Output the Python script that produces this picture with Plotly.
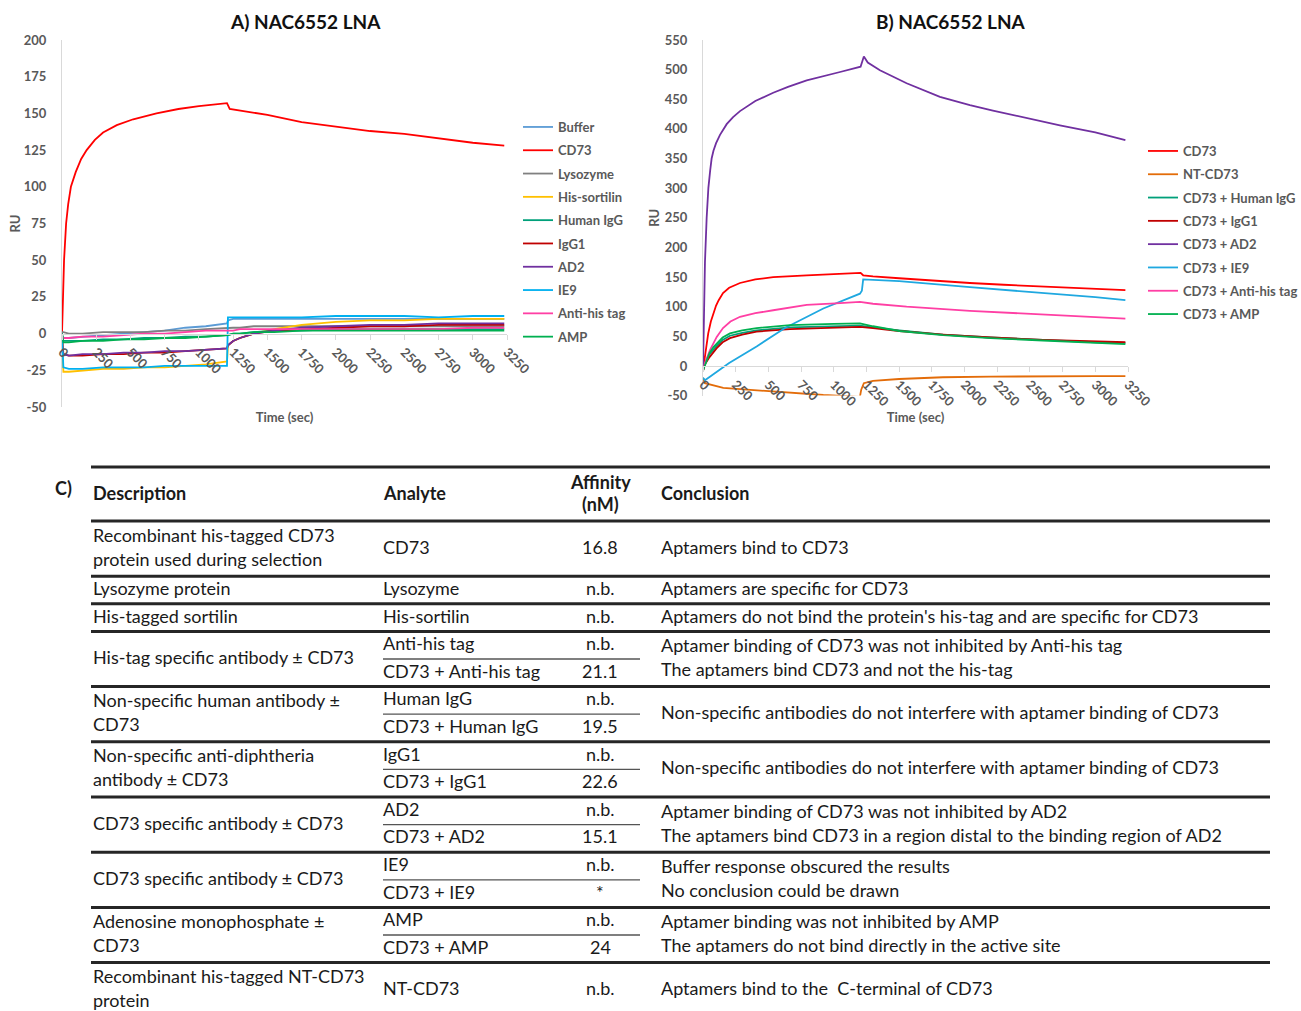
import plotly.graph_objects as go

# ---------------- Panel A: NAC6552 LNA against single analytes ----------------
a_names = ["Buffer", "CD73", "Lysozyme", "His-sortilin", "Human IgG",
           "IgG1", "AD2", "IE9", "Anti-his tag", "AMP"]
a_colors = ["#5B9BD5", "#FF0000", "#808080", "#FFC000", "#00A07A",
            "#C00000", "#7030A0", "#00B0F0", "#FF3FA4", "#00B050"]

# CD73 sensorgram (association 0-1210 s, dissociation afterwards)
a_cd73_t = [0, 5, 15, 30, 45, 65, 100, 140, 180, 240, 300, 400, 520, 690, 850,
            1000, 1205, 1225, 1300, 1500, 1750, 2000, 2250, 2500, 2750, 3000, 3230]
a_cd73_ru = [0, 25, 50, 75, 88, 100, 110, 119, 125, 132, 137, 142, 146, 150, 153,
             155, 157, 153, 152, 149, 144, 141, 138, 136, 133, 130, 128]

# non-binding analytes share one time base
a_low_t = [0, 10, 50, 150, 300, 450, 600, 750, 900, 1050, 1205, 1212, 1250,
           1300, 1400, 1550, 1750, 2000, 2250, 2500, 2750, 3000, 3230]
a_buffer = [-1, -3, -3, -2, -1, 0, 1, 2, 4, 5, 7, 9, 10, 10, 10, 10, 10, 10, 10, 10, 10, 10, 10]
a_lysozyme = [1, 1, 0, 0, 1, 1, 1, 2, 2, 3, 4, 4, 4, 4, 5, 5, 5, 5, 5, 5, 5, 5, 5]
a_his_sortilin = [0, -26, -26, -25, -24, -24, -23, -23, -22, -21, -19, -8, -5, -3, 0, 3, 6, 8, 9, 9, 10, 10, 10]
a_human_igg = [0, -5, -5, -5, -4, -4, -3, -3, -2, -2, -1, -1, 0, 0, 1, 2, 2, 3, 3, 3, 3, 3, 3]
a_igg1 = [0, -14, -15, -15, -14, -14, -13, -13, -12, -11, -10, -8, -5, -3, 0, 2, 3, 4, 5, 5, 6, 6, 6]
a_ad2 = [-13, -14, -15, -14, -14, -13, -13, -12, -12, -11, -10, -8, -5, -3, 0, 2, 4, 5, 6, 6, 7, 7, 7]
a_ie9 = [0, -23, -24, -24, -23, -23, -23, -22, -22, -22, -22, 11, 11, 11, 11, 11, 11, 12, 12, 12, 11, 12, 12]
a_anti_his = [-3, -3, -3, -2, -2, -1, 0, 0, 1, 2, 2, 2, 2, 3, 3, 3, 3, 3, 3, 3, 3, 4, 4]
a_amp = [0, -6, -6, -5, -5, -4, -4, -3, -3, -2, -1, -1, 0, 0, 1, 1, 2, 2, 2, 2, 2, 2, 2]

# ---------------- Panel B: NAC6552 LNA against CD73 complexes ----------------
b_names = ["CD73", "NT-CD73", "CD73 + Human IgG", "CD73 + IgG1",
           "CD73 + AD2", "CD73 + IE9", "CD73 + Anti-his tag", "CD73 + AMP"]
b_colors = ["#FF0000", "#E36C09", "#00A07A", "#C00000",
            "#7030A0", "#1FA8E0", "#FF3FA4", "#00B050"]

b_cd73_t = [0, 20, 40, 60, 78, 100, 120, 153, 200, 283, 400, 537, 793, 1000, 1205,
            1225, 1300, 1500, 1750, 2041, 2300, 2600, 2900, 3230]
b_cd73_ru = [-7, 25, 55, 75, 89, 102, 111, 123, 132, 140, 146, 150, 153, 155, 157,
             153, 151, 148, 144, 140, 137, 134, 131, 128]

b_nt_t = [0, 15, 155, 537, 920, 1200, 1210, 1230, 1300, 1500, 1835, 2200, 2600, 3000, 3230]
b_nt_ru = [-20, -29, -37, -43, -49, -52, -40, -29, -25, -22, -19, -18, -17, -17, -17]

b_ab_t = [0, 15, 50, 80, 105, 150, 206, 300, 410, 665, 1000, 1200, 1300, 1500,
          1835, 2200, 2600, 3000, 3230]
b_human_igg_ru = [-8, 5, 20, 28, 34, 44, 51, 56, 60, 65, 67, 68, 65, 60, 53, 48, 44, 40, 39]
b_igg1_ru = [-8, 3, 15, 24, 30, 40, 47, 53, 58, 62, 65, 66, 64, 59, 53, 48, 44, 41, 40]
b_amp_ru = [-8, 2, 22, 32, 38, 48, 55, 60, 64, 69, 71, 72, 67, 59, 52, 47, 43, 39, 37]

b_ad2_t = [0, 8, 15, 28, 41, 55, 66, 80, 100, 130, 181, 230, 283, 400, 537, 650,
           793, 1048, 1205, 1230, 1260, 1353, 1557, 1812, 2041, 2217, 2500, 2729, 3000, 3230]
b_ad2_ru = [-7, 90, 175, 250, 300, 330, 350, 363, 376, 390, 408, 420, 430, 447, 461, 471,
            482, 496, 505, 522, 512, 499, 477, 454, 440, 431, 417, 406, 394, 381]

b_ie9_t = [0, 15, 200, 410, 627, 920, 1200, 1215, 1225, 1500, 2041, 2500, 3000, 3230]
b_ie9_ru = [-20, -24, 5, 33, 64, 97, 122, 127, 146, 143, 133, 125, 116, 111]

b_anti_his_t = [0, 15, 54, 105, 153, 210, 283, 400, 537, 793, 1048, 1200, 1300, 1557,
                2041, 2500, 3000, 3230]
b_anti_his_ru = [-8, 5, 27, 49, 64, 75, 83, 89, 94, 103, 106, 108, 105, 100, 93, 88, 83, 80]

time_ticks = list(range(0, 3251, 250))
a_ru_ticks = list(range(-50, 201, 25))
b_ru_ticks = list(range(-50, 551, 50))

# ---------------- Panel C: summary table ----------------
tbl_header = ["Description", "Analyte", "Affinity<br>(nM)", "Conclusion"]
tbl_description = [
    ["Recombinant his-tagged CD73", "protein used during selection"],
    ["Lysozyme protein"],
    ["His-tagged sortilin"],
    ["His-tag specific antibody ± CD73"],
    ["Non-specific human antibody ±", "CD73"],
    ["Non-specific anti-diphtheria", "antibody ± CD73"],
    ["CD73 specific antibody ± CD73"],
    ["CD73 specific antibody ± CD73"],
    ["Adenosine monophosphate ±", "CD73"],
    ["Recombinant his-tagged NT-CD73", "protein"],
]
tbl_analyte = [
    ["CD73"], ["Lysozyme"], ["His-sortilin"],
    ["Anti-his tag", "CD73 + Anti-his tag"],
    ["Human IgG", "CD73 + Human IgG"],
    ["IgG1", "CD73 + IgG1"],
    ["AD2", "CD73 + AD2"],
    ["IE9", "CD73 + IE9"],
    ["AMP", "CD73 + AMP"],
    ["NT-CD73"],
]
tbl_affinity = [
    ["16.8"], ["n.b."], ["n.b."], ["n.b.", "21.1"], ["n.b.", "19.5"],
    ["n.b.", "22.6"], ["n.b.", "15.1"], ["n.b.", "*"], ["n.b.", "24"], ["n.b."],
]
tbl_conclusion = [
    ["Aptamers bind to CD73"],
    ["Aptamers are specific for CD73"],
    ["Aptamers do not bind the protein's his-tag and are specific for CD73"],
    ["Aptamer binding of CD73 was not inhibited by Anti-his tag",
     "The aptamers bind CD73 and not the his-tag"],
    ["Non-specific antibodies do not interfere with aptamer binding of CD73"],
    ["Non-specific antibodies do not interfere with aptamer binding of CD73"],
    ["Aptamer binding of CD73 was not inhibited by AD2",
     "The aptamers bind CD73 in a region distal to the binding region of AD2"],
    ["Buffer response obscured the results", "No conclusion could be drawn"],
    ["Aptamer binding was not inhibited by AMP",
     "The aptamers do not bind directly in the active site"],
    ["Aptamers bind to the  C-terminal of CD73"],
]

# ---------------- layout helpers (pixel -> paper) ----------------
W, H = 1301, 1011


def fx(px):
    return px / W


def fy(py):
    return 1 - py / H


AX_GRAY = "#595959"
LINE_GRAY = "#D9D9D9"
CHART_FONT = "Lato"
TABLE_FONT = "Lato"

fig = go.Figure()

# panel A traces
a_low_series = [a_buffer, None, a_lysozyme, a_his_sortilin, a_human_igg,
                a_igg1, a_ad2, a_ie9, a_anti_his, a_amp]
for i, name in enumerate(a_names):
    if name == "CD73":
        x, y = a_cd73_t, a_cd73_ru
    else:
        x, y = a_low_t, a_low_series[i]
    fig.add_trace(go.Scatter(x=x, y=y, name=name, mode="lines",
                             line=dict(color=a_colors[i], width=1.8),
                             xaxis="x", yaxis="y", legend="legend",
                             legendgroup="a" + name, legendrank=i + 1))

# panel B traces
b_series = [(b_cd73_t, b_cd73_ru), (b_nt_t, b_nt_ru), (b_ab_t, b_human_igg_ru),
            (b_ab_t, b_igg1_ru), (b_ad2_t, b_ad2_ru), (b_ie9_t, b_ie9_ru),
            (b_anti_his_t, b_anti_his_ru), (b_ab_t, b_amp_ru)]
for i, name in enumerate(b_names):
    x, y = b_series[i]
    fig.add_trace(go.Scatter(x=x, y=y, name=name, mode="lines",
                             line=dict(color=b_colors[i], width=1.8),
                             xaxis="x2", yaxis="y2", legend="legend2",
                             legendgroup="b" + name, legendrank=i + 1))

# plot areas
a_xdom = [fx(62), fx(507)]
a_ydom = [fy(407), fy(40)]
a_yrange = [-50, 200]
b_xdom = [fx(703), fx(1128)]
b_ydom = [fy(395.6), fy(40)]
b_yrange = [-50, 550]


def zero_position(ydom, yrange):
    return ydom[0] + (0 - yrange[0]) / (yrange[1] - yrange[0]) * (ydom[1] - ydom[0])


tick_font = dict(family=CHART_FONT, size=13, color=AX_GRAY, weight="bold")
title_font = dict(family=CHART_FONT, size=13, color=AX_GRAY, weight="bold")


def x_axis(dom, ypos, standoff):
    return dict(domain=dom, range=[0, 3250], tickvals=time_ticks, tickangle=45,
                anchor="free", position=ypos, showgrid=False, zeroline=False,
                showline=True, linecolor=LINE_GRAY, linewidth=1,
                ticks="outside", ticklen=5, tickcolor=LINE_GRAY,
                tickfont=tick_font, automargin=False,
                title=dict(text="Time (sec)", font=title_font, standoff=standoff))


def y_axis(dom, yrange, ticks, anchor, standoff):
    return dict(domain=dom, range=yrange, tickvals=ticks,
                ticktext=[str(v) for v in ticks], anchor=anchor,
                showgrid=False, zeroline=False, showline=True,
                linecolor=LINE_GRAY, linewidth=1, ticks="",
                ticklabelstandoff=12, tickfont=tick_font, automargin=False,
                title=dict(text="RU", font=title_font, standoff=standoff))


legend_font = dict(family=CHART_FONT, size=13, color=AX_GRAY, weight="bold")

fig.update_layout(
    width=W, height=H, margin=dict(l=0, r=0, t=0, b=0, autoexpand=False),
    paper_bgcolor="white", plot_bgcolor="white",
    xaxis=x_axis(a_xdom, zero_position(a_ydom, a_yrange), 36),
    yaxis=y_axis(a_ydom, a_yrange, a_ru_ticks, "x", 0),
    xaxis2=x_axis(b_xdom, zero_position(b_ydom, b_yrange), 0),
    yaxis2=y_axis(b_ydom, b_yrange, b_ru_ticks, "x2", 2),
    legend=dict(x=fx(518), y=fy(112), xanchor="left", yanchor="top",
                font=legend_font, bgcolor="rgba(0,0,0,0)", tracegroupgap=3.4,
                itemwidth=30),
    legend2=dict(x=fx(1143), y=fy(136), xanchor="left", yanchor="top",
                 font=legend_font, bgcolor="rgba(0,0,0,0)", tracegroupgap=3.4,
                 itemwidth=30),
    showlegend=True,
)

annotations = []
shapes = []

# panel titles
for text, cx in [("A) NAC6552 LNA", 305), ("B) NAC6552 LNA", 951)]:
    annotations.append(dict(text=text, x=fx(cx), y=fy(21), xref="paper", yref="paper",
                            showarrow=False, xanchor="center", yanchor="middle",
                            font=dict(family=CHART_FONT, size=19, color="#111111",
                                      weight="bold")))

# ---------------- table drawing ----------------
txt_font = dict(family=TABLE_FONT, size=18, color="#1A1A1A")
hdr_font = dict(family=TABLE_FONT, size=18, color="#1A1A1A", weight="bold")
col_desc, col_analyte, col_aff, col_concl = 91, 381, 600, 659
rule_left, rule_right = 91, 1270
sub_rule_right = 640
line_h = 27.6
text_gap = 24
text_lift = 2
thick = dict(color="#262626", width=3)
thin = dict(color="#555555", width=1.3)


def add_text(text, px, py, font, anchor="left"):
    annotations.append(dict(text=text, x=fx(px), y=fy(py - text_lift),
                            xref="paper", yref="paper",
                            showarrow=False, xanchor=anchor, yanchor="middle",
                            font=font))


def add_rule(y, x0, x1, style):
    shapes.append(dict(type="line", xref="paper", yref="paper",
                       x0=fx(x0), x1=fx(x1), y0=fy(y), y1=fy(y), line=style))


add_text("C)", 53, 490, hdr_font)
header_top, header_bottom = 467, 521
add_rule(header_top, rule_left, rule_right, thick)
add_rule(header_bottom, rule_left, rule_right, thick)
header_mid = (header_top + header_bottom) / 2 + 1
add_text(tbl_header[0], col_desc, header_mid, hdr_font)
add_text(tbl_header[1], col_analyte, header_mid, hdr_font)
aff_lines = tbl_header[2].split("<br>")
for k, part in enumerate(aff_lines):
    add_text(part, col_aff, header_mid + (k - (len(aff_lines) - 1) / 2) * 22,
             hdr_font, anchor="center")
add_text(tbl_header[3], col_concl, header_mid, hdr_font)

row_top = header_bottom
for r in range(len(tbl_description)):
    n = max(len(tbl_description[r]), len(tbl_analyte[r]), len(tbl_conclusion[r]))
    row_h = n * line_h
    mid = row_top + row_h / 2
    for lines, col in [(tbl_description[r], col_desc), (tbl_conclusion[r], col_concl)]:
        for k, line in enumerate(lines):
            add_text(line, col, mid + (k - (len(lines) - 1) / 2) * text_gap, txt_font)
    m = len(tbl_analyte[r])
    for k in range(m):
        yy = mid if m == 1 else row_top + line_h / 2 + k * line_h
        add_text(tbl_analyte[r][k], col_analyte, yy, txt_font)
        add_text(tbl_affinity[r][k], col_aff, yy, txt_font, anchor="center")
    if m > 1:
        add_rule(mid, col_analyte + 2, sub_rule_right, thin)
    row_top += row_h
    if r < len(tbl_description) - 1:
        add_rule(row_top, rule_left, rule_right, thick)

fig.update_layout(annotations=annotations, shapes=shapes)
fig.write_html("out.html")
